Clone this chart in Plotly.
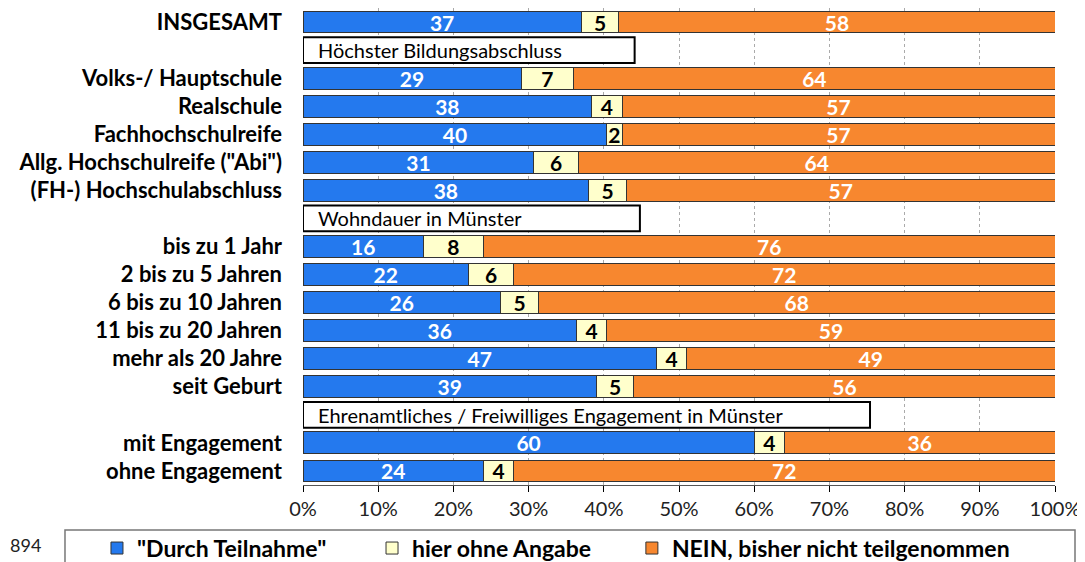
import plotly.graph_objects as go

# Values (percent, rounded as printed)
categories = [
    "INSGESAMT",
    "Volks-/ Hauptschule", "Realschule", "Fachhochschulreife",
    "Allg. Hochschulreife (\"Abi\")", "(FH-) Hochschulabschluss",
    "bis zu 1 Jahr", "2 bis zu 5 Jahren", "6 bis zu 10 Jahren",
    "11 bis zu 20 Jahren", "mehr als 20 Jahre", "seit Geburt",
    "mit Engagement", "ohne Engagement",
]
durch_teilnahme = [37, 29, 38, 40, 31, 38, 16, 22, 26, 36, 47, 39, 60, 24]
ohne_angabe = [5, 7, 4, 2, 6, 5, 8, 6, 5, 4, 4, 5, 4, 4]
nein = [58, 64, 57, 57, 64, 57, 76, 72, 68, 59, 49, 56, 36, 72]

headers = ["Höchster Bildungsabschluss", "Wohndauer in Münster",
           "Ehrenamtliches / Freiwilliges Engagement in Münster"]
header_before = [1, 6, 12]      # header row sits before this category index
header_width = [44.1, 44.8, 75.4]  # box length in % of axis (styling)

series_names = ["\"Durch Teilnahme\"", "hier ohne Angabe", "NEIN, bisher nicht teilgenommen"]
tick_vals = list(range(0, 101, 10))
tick_text = [f"{v}%" for v in tick_vals]
sample_note = "894"

# row positions (header rows get their own slot)
cat_pos, head_pos, pos = [], [], 0
for i in range(len(categories)):
    if i in header_before:
        head_pos.append(pos)
        pos += 1
    cat_pos.append(pos)
    pos += 1
n_rows = pos

FONT = "Lato, Open Sans, sans-serif"
colors = ["#2479EE", "#FFFFCC", "#F7872F"]
text_colors = ["white", "black", "white"]
legend_ids = ["legend", "legend2", "legend3"]

fig = go.Figure()
for k, (name, vals) in enumerate(zip(series_names, [durch_teilnahme, ohne_angabe, nein])):
    fig.add_trace(go.Bar(
        y=cat_pos, x=vals, orientation="h", name=name,
        marker=dict(color=colors[k], line=dict(color="#333333", width=1)),
        text=[str(v) for v in vals], texttemplate="%{text}", textangle=0,
        textposition="inside", insidetextanchor="middle", constraintext="none",
        textfont=dict(color=text_colors[k], size=21, family=FONT, weight="bold"),
        width=0.78, legend=legend_ids[k], showlegend=True,
        hoverinfo="skip",
    ))

# section header boxes
for hp, txt, w in zip(head_pos, headers, header_width):
    fig.add_shape(type="rect", xref="x", yref="y", x0=0, x1=w,
                  y0=hp - 0.46, y1=hp + 0.46,
                  line=dict(color="black", width=2), fillcolor="white")
    fig.add_annotation(x=0, y=hp, xref="x", yref="y", text=txt,
                       xanchor="left", showarrow=False, xshift=13,
                       font=dict(size=20, family=FONT, color="black"))

# legend frame + sample note
fig.add_shape(type="rect", xref="paper", yref="paper",
              x0=-0.3165, x1=1.0266, y0=-0.0943, y1=-0.3,
              line=dict(color="#777777", width=1.5), fillcolor="white", layer="below")
fig.add_annotation(x=-0.3923, y=-0.126, xref="paper", yref="paper", text=sample_note,
                   xanchor="left", yanchor="middle", showarrow=False,
                   font=dict(size=18, family=FONT, color="#222222"))

leg_common = dict(orientation="h", xref="container", yref="container",
                  yanchor="middle", y=0.039, xanchor="left",
                  bgcolor="rgba(0,0,0,0)",
                  font=dict(size=23, family=FONT, color="black", weight="bold"))

fig.update_layout(
    width=1085, height=562,
    barmode="stack", barnorm="percent",
    paper_bgcolor="white", plot_bgcolor="white",
    margin=dict(l=295, r=38, t=0, b=85),
    font=dict(family=FONT, color="black"),
    showlegend=True,
    legend=dict(x=0.082, **leg_common),
    legend2=dict(x=0.3355, **leg_common),
    legend3=dict(x=0.575, **leg_common),
    xaxis=dict(
        range=[0, 100], tickvals=tick_vals, ticktext=tick_text,
        ticks="outside", ticklen=6, tickcolor="black",
        showline=True, linecolor="#555555", linewidth=1, mirror=True,
        showgrid=True, gridcolor="#AAAAAA", griddash="dot", gridwidth=1,
        zeroline=False, tickfont=dict(size=20, family=FONT, color="#222222"),
        ticklabeloverflow="allow",
    ),
    yaxis=dict(
        range=[n_rows - 0.5, -0.5], tickvals=cat_pos, ticktext=categories,
        showgrid=False, zeroline=False, ticks="", ticklabelstandoff=20,
        ticklabeloverflow="allow",
        tickfont=dict(size=22, family=FONT, color="black", weight="bold"),
    ),
)

fig.write_html("out.html")
